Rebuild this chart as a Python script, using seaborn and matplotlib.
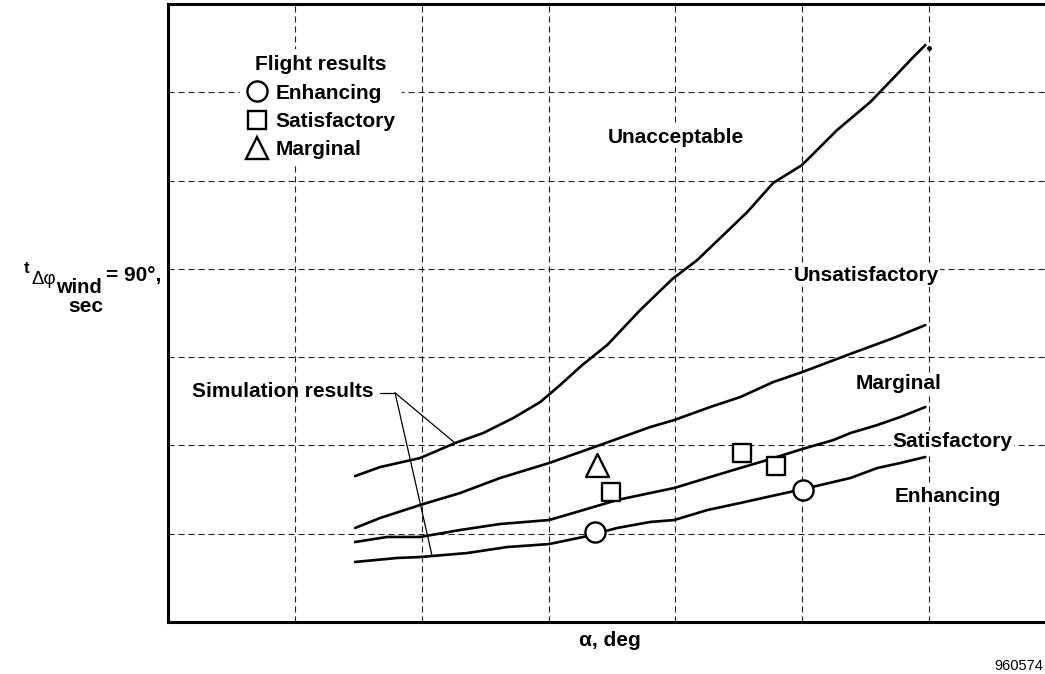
import numpy as np
import pandas as pd
import matplotlib
matplotlib.use("Agg")
import matplotlib.pyplot as plt
from matplotlib.lines import Line2D
import seaborn as sns

# Simulation boundaries between handling regions (alpha, time to bank 90 deg)
alpha_unacceptable = [1.475, 1.672, 1.987, 2.263, 2.484, 2.721, 2.934, 3.091, 3.265, 3.462,
                      3.722, 3.975, 4.172, 4.353, 4.566, 4.770, 4.998, 5.274, 5.536, 5.718,
                      5.875, 5.970]
t_unacceptable = [1.653, 1.755, 1.857, 2.027, 2.140, 2.310, 2.491, 2.684, 2.910, 3.137,
                  3.533, 3.884, 4.100, 4.349, 4.643, 4.972, 5.176, 5.572, 5.889, 6.161,
                  6.399, 6.535]

alpha_unsatisfactory = [1.475, 1.672, 1.987, 2.303, 2.618, 3.005, 3.383, 3.801, 3.991, 4.274,
                        4.511, 4.771, 5.000, 5.355, 5.718, 5.970]
t_unsatisfactory = [1.065, 1.178, 1.325, 1.461, 1.631, 1.801, 1.993, 2.208, 2.288, 2.435,
                    2.548, 2.718, 2.831, 3.024, 3.216, 3.363]

alpha_marginal = [1.475, 1.727, 1.987, 2.303, 2.618, 3.005, 3.273, 3.541, 3.801, 3.991,
                  4.196, 4.456, 4.724, 5.000, 5.245, 5.379, 5.591, 5.773, 5.970]
t_marginal = [0.906, 0.963, 0.963, 1.042, 1.110, 1.155, 1.268, 1.382, 1.461, 1.518,
              1.608, 1.721, 1.835, 1.959, 2.061, 2.140, 2.231, 2.322, 2.435]

alpha_satisfactory = [1.475, 1.806, 1.987, 2.358, 2.673, 3.005, 3.273, 3.541, 3.801, 3.991,
                      4.251, 4.511, 4.724, 5.008, 5.379, 5.591, 5.773, 5.970]
t_satisfactory = [0.680, 0.725, 0.736, 0.781, 0.849, 0.883, 0.963, 1.065, 1.133, 1.155,
                  1.268, 1.348, 1.416, 1.506, 1.631, 1.744, 1.801, 1.869]

# Flight test points
flight_alpha = [3.367, 5.008, 3.494, 4.527, 4.795, 3.383]
flight_t = [1.019, 1.495, 1.472, 1.914, 1.767, 1.778]
flight_rating = ["Enhancing", "Enhancing", "Satisfactory", "Satisfactory", "Satisfactory", "Marginal"]

rating_order = ["Enhancing", "Satisfactory", "Marginal"]
rating_markers = {"Enhancing": "o", "Satisfactory": "s", "Marginal": "^"}
rating_sizes = {"Enhancing": 14.5, "Satisfactory": 13.5, "Marginal": 16.5}

# Region labels
region_names = ["Unacceptable", "Unsatisfactory", "Marginal", "Satisfactory", "Enhancing"]
region_alpha = [4.006, 5.505, 5.757, 6.183, 6.151]
region_t = [5.49, 3.92, 2.70, 2.04, 1.427]

grid_ticks = [1, 2, 3, 4, 5, 6]

sns.set_theme(style="white")
plt.rcParams["font.family"] = ["Liberation Sans", "DejaVu Sans"]
plt.rcParams["font.weight"] = "bold"
plt.rcParams["text.color"] = "black"
plt.rcParams["legend.labelcolor"] = "black"

W, H = 1045, 674
FS = 15
fig = plt.figure(figsize=(W / 100, H / 100), dpi=100)
fig.patch.set_facecolor("white")
ax = fig.add_axes([168 / W, 1 - 622 / H, 888 / W, 618 / H])
ax.set_facecolor("white")

curves = pd.concat([
    pd.DataFrame({"alpha": alpha_unacceptable, "t": t_unacceptable, "boundary": "unacceptable"}),
    pd.DataFrame({"alpha": alpha_unsatisfactory, "t": t_unsatisfactory, "boundary": "unsatisfactory"}),
    pd.DataFrame({"alpha": alpha_marginal, "t": t_marginal, "boundary": "marginal"}),
    pd.DataFrame({"alpha": alpha_satisfactory, "t": t_satisfactory, "boundary": "satisfactory"}),
], ignore_index=True)

sns.lineplot(data=curves, x="alpha", y="t", units="boundary", estimator=None, sort=False,
             color="black", linewidth=1.9, ax=ax, zorder=3)

# end marker on the top boundary
ax.plot([alpha_unacceptable[-1] + 0.03], [t_unacceptable[-1] - 0.03], marker="o", ms=2.5,
        color="black", ls="none", zorder=3)

flights = pd.DataFrame({"alpha": flight_alpha, "t": flight_t, "rating": flight_rating})
for r in rating_order:
    sub = flights[flights["rating"] == r]
    sns.scatterplot(data=sub, x="alpha", y="t", marker=rating_markers[r],
                    s=rating_sizes[r] ** 2, facecolor="white", edgecolor="black",
                    linewidth=1.7, ax=ax, zorder=4, legend=False)

ax.set_xlim(0, 7)
ax.set_ylim(0, 7)
ax.set_xticks(grid_ticks)
ax.set_yticks(grid_ticks)
ax.set_xticklabels([])
ax.set_yticklabels([])
ax.tick_params(length=0)
ax.set_xlabel("")
ax.set_ylabel("")
ax.grid(True, color="#222222", linewidth=0.8, linestyle=(0, (5.5, 3.5)))
ax.set_axisbelow(True)
for side in ["left", "bottom", "top"]:
    ax.spines[side].set_visible(True)
    ax.spines[side].set_color("black")
    ax.spines[side].set_linewidth(2.2)
ax.spines["right"].set_visible(False)

for name, xa, yt in zip(region_names, region_alpha, region_t):
    ax.text(xa, yt, name, ha="center", va="center", fontsize=FS, fontweight="bold",
            color="black", zorder=5,
            bbox=dict(facecolor="white", edgecolor="none", pad=1.0))

# Simulation results callout with leader lines to two boundaries
ax.text(1.617, 2.616, "Simulation results", ha="right", va="center", fontsize=FS,
        fontweight="bold", color="black", zorder=5)
lead_y = 2.595
ax.plot([1.672, 1.79], [lead_y, lead_y], color="black", lw=0.9, zorder=5)
for curve_a, curve_t, target_a in [(alpha_unacceptable, t_unacceptable, 2.263),
                                   (alpha_satisfactory, t_satisfactory, 2.082)]:
    ty = float(np.interp(target_a, curve_a, curve_t))
    ax.plot([1.79, target_a], [lead_y, ty], color="black", lw=0.9, zorder=5)

# Flight results key
handles = [Line2D([], [], marker=rating_markers[r], ls="none", mfc="white", mec="black",
                  mew=1.7, ms=rating_sizes[r]) for r in rating_order]
leg = ax.legend(handles, rating_order, title="Flight results", loc="upper left",
                bbox_to_anchor=(240 / W, 1 - 49 / H), bbox_transform=fig.transFigure,
                frameon=True, fancybox=False, framealpha=1.0, facecolor="white",
                edgecolor="none", fontsize=FS, title_fontsize=FS,
                handlelength=1.0, handletextpad=0.4, labelspacing=0.45,
                borderpad=0.3, borderaxespad=0.0)
leg.get_title().set_fontweight("bold")
leg.get_title().set_color("black")
for t in leg.get_texts():
    t.set_fontweight("bold")
    t.set_color("black")
leg.set_zorder(6)


def ftext(xp, yp, s, **kw):
    fig.text(xp / W, 1 - yp / H, s, color="black", **kw)


# y-axis label: t_{Δφ wind} = 90°, sec
ftext(24, 273, "t", fontsize=12, fontweight="bold", va="baseline", ha="left")
ftext(31, 284, "Δφ", fontsize=13.5, fontweight="normal", va="baseline", ha="left")
ftext(56, 293, "wind", fontsize=14.5, fontweight="bold", va="baseline", ha="left")
ftext(161, 281, "= 90°,", fontsize=15, fontweight="bold", va="baseline", ha="right")
ftext(86, 312, "sec", fontsize=15, fontweight="bold", va="baseline", ha="center")

# x-axis label
ftext(610, 641, "α, deg", fontsize=FS, fontweight="bold", va="center", ha="center")
ftext(1043, 666, "960574", fontsize=10.5, fontweight="normal", va="center", ha="right")

fig.savefig("out.png", dpi=100, facecolor="white")
